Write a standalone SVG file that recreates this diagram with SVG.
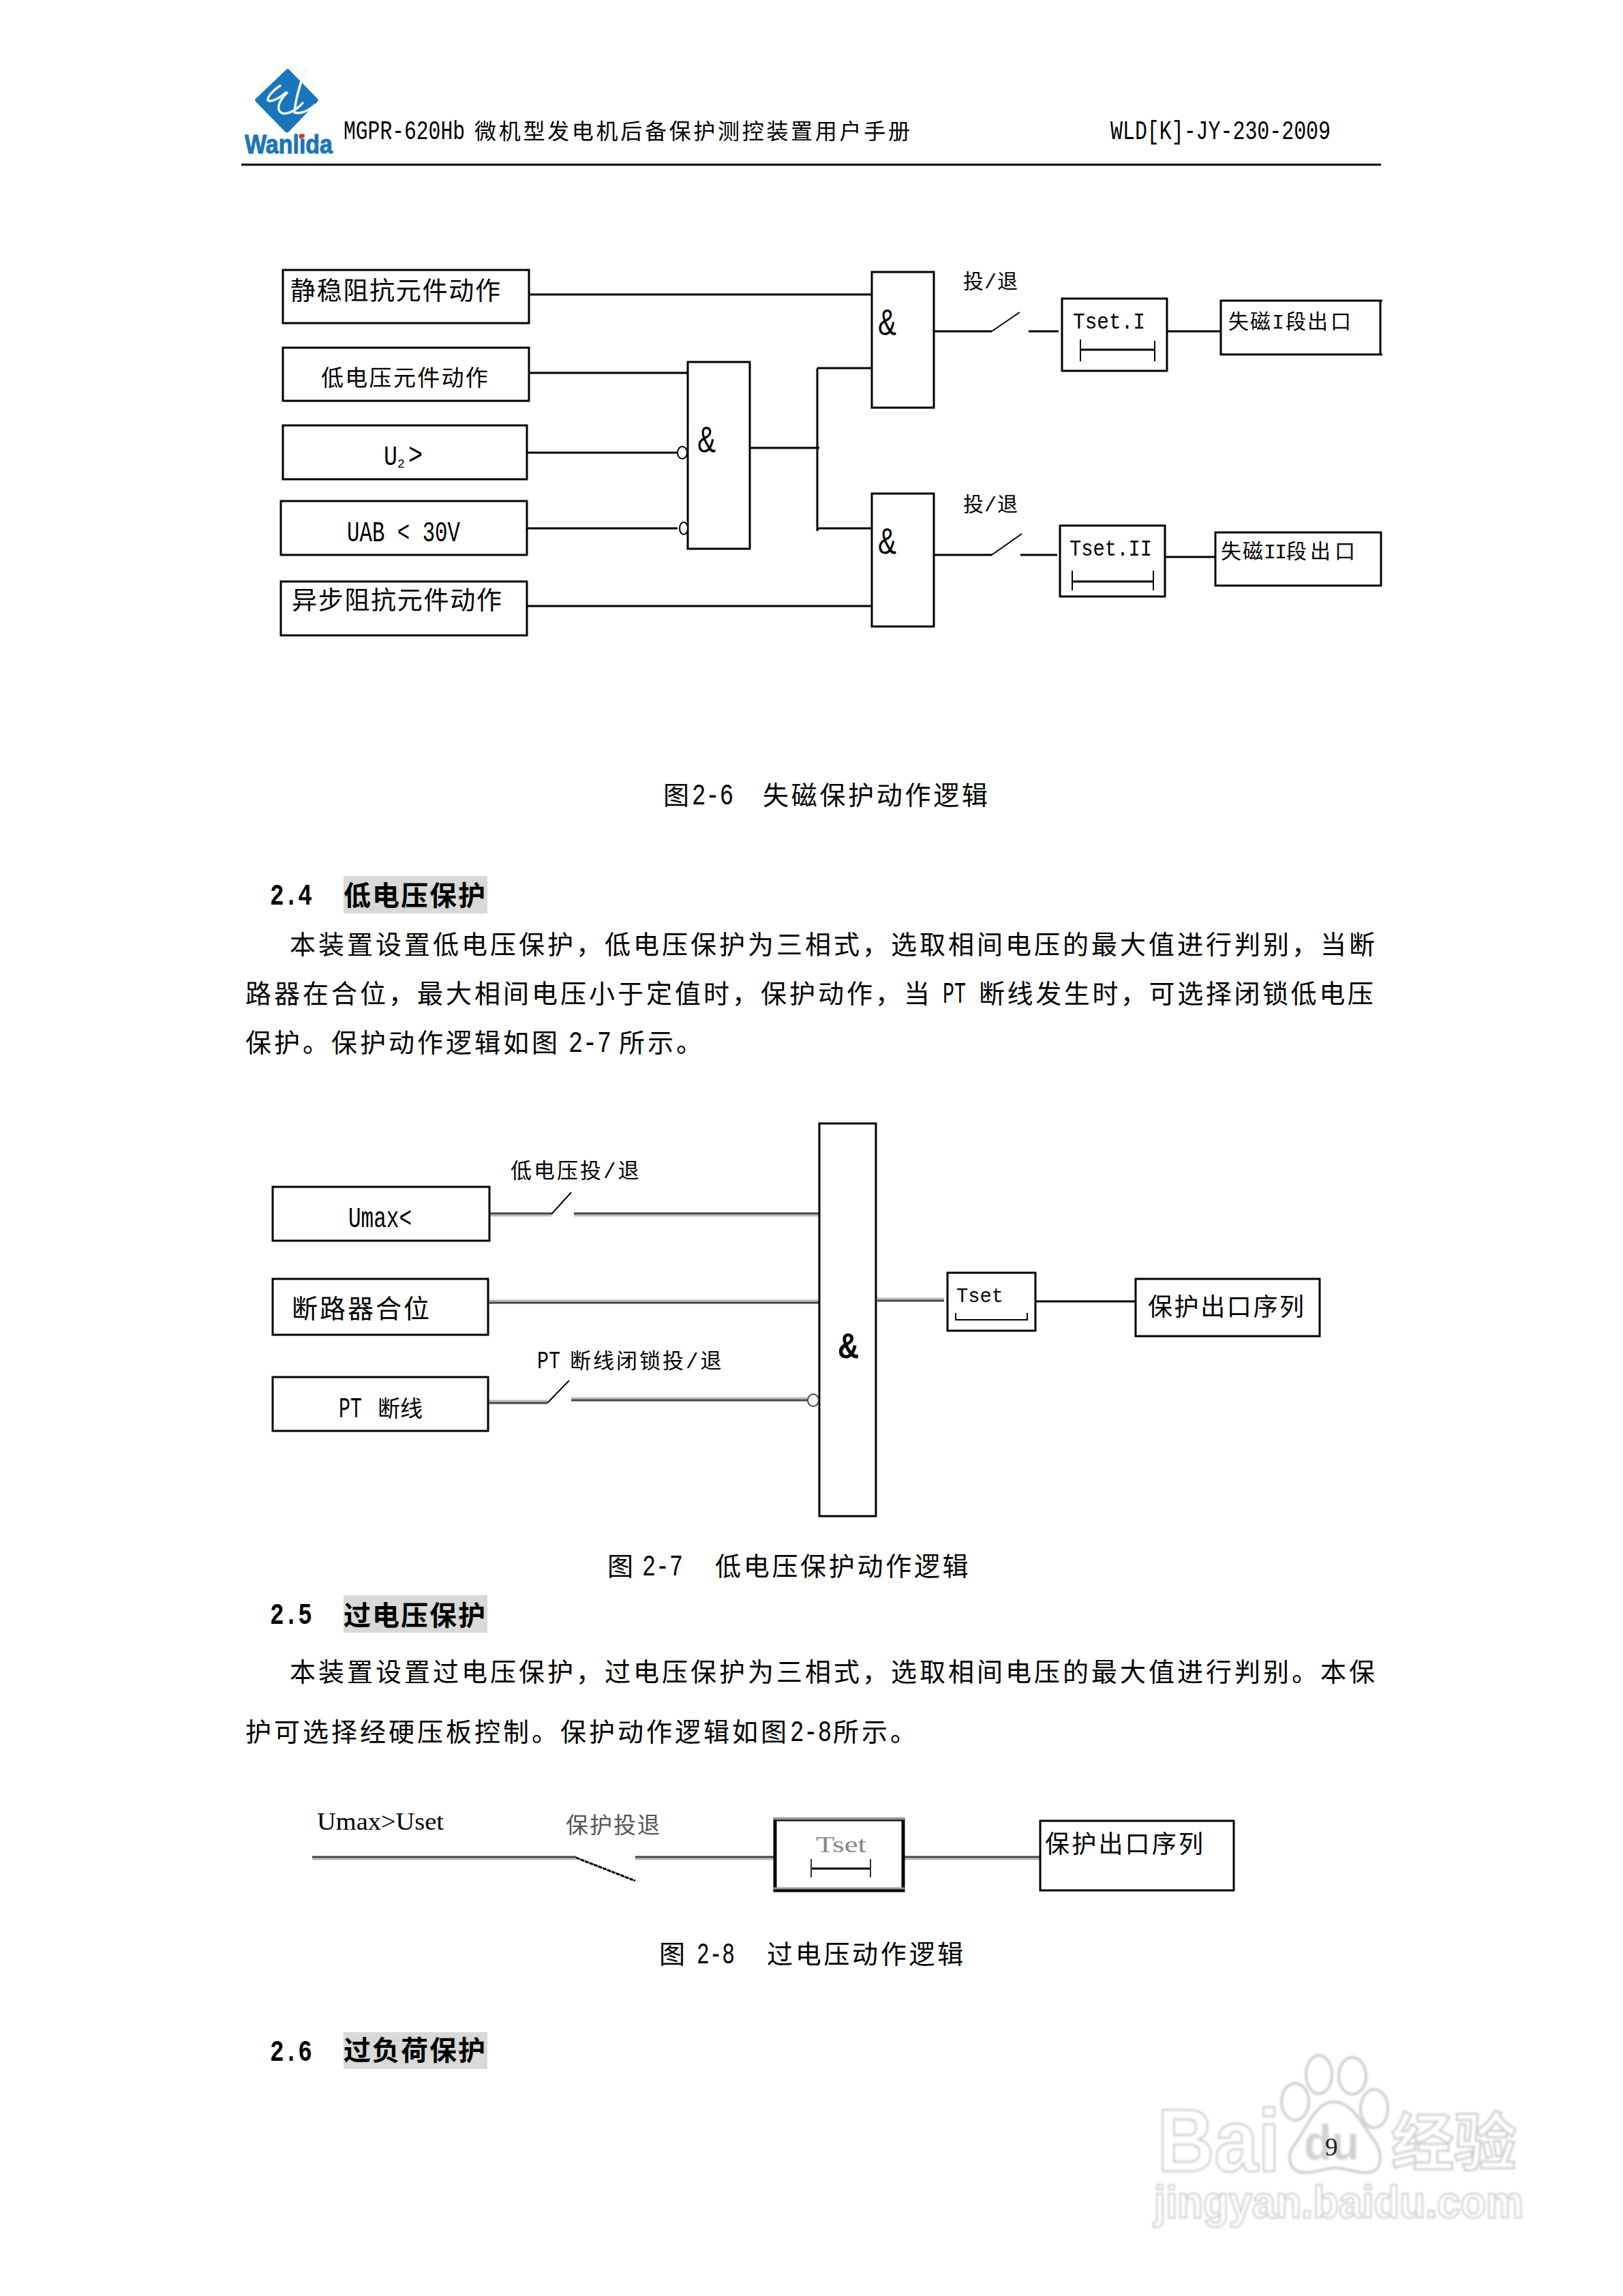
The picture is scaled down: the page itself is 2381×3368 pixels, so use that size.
<svg xmlns="http://www.w3.org/2000/svg" width="2381" height="3368" viewBox="0 0 2381 3368">
<defs>
<style>
text{font-family:"Liberation Mono","Noto Sans CJK SC",monospace;fill:#000}
.box{fill:#fff;stroke:#000;stroke-width:3}
.ln{fill:none;stroke:#000;stroke-width:3}
.thin{fill:none;stroke:#000;stroke-width:2}
.dk{fill:none;stroke:#444;stroke-width:3}
.lt{fill:none;stroke:#bbb;stroke-width:3}
.body{font-size:38px;letter-spacing:4px}
.cap{font-size:38px;letter-spacing:3.7px}
.dig{font-size:44px}
.num{font-size:44px;font-weight:700}
.hd{font-size:40px;font-weight:700;letter-spacing:2px}
.hl{fill:#d9d9d9}
.hdr{font-size:32px;letter-spacing:3.7px}
.lat{font-size:38px}
.lb{font-size:37px;letter-spacing:1.7px}
.sm{font-size:31px;letter-spacing:3px}
.tag{font-size:30px}
.amp{font-family:"Liberation Sans",sans-serif;font-size:54px}
.wm{font-family:"Liberation Sans","Noto Sans CJK SC",sans-serif;font-weight:700;fill:#fff;stroke:#cfcfcf;stroke-width:3}
.wmp{fill:#fff;stroke:#cfcfcf;stroke-width:4}
</style>
<filter id="blur" x="-5%" y="-5%" width="110%" height="110%"><feGaussianBlur stdDeviation="1.4"/></filter>
</defs>
<rect width="2381" height="3368" fill="#fff"/>

<g id="watermark" filter="url(#blur)">
<text class="wm" x="1698" y="3185" font-size="130" textLength="180" lengthAdjust="spacingAndGlyphs">Bai</text>
<ellipse class="wmp" cx="1935" cy="3043" rx="19" ry="28"/>
<ellipse class="wmp" cx="1984" cy="3045" rx="20" ry="27"/>
<ellipse class="wmp" cx="1900" cy="3083" rx="20" ry="27"/>
<ellipse class="wmp" cx="2016" cy="3093" rx="20" ry="28"/>
<path class="wmp" d="M1956 3083C1930 3083 1915 3125 1900 3145C1885 3165 1892 3187 1915 3187C1935 3187 1945 3180 1958 3180C1975 3180 1985 3187 2005 3187C2028 3187 2030 3160 2016 3140C2000 3120 1985 3083 1956 3083Z"/>
<text x="1913" y="3168" font-size="72" textLength="81" lengthAdjust="spacingAndGlyphs" style="font-family:'Liberation Sans',sans-serif;font-weight:700;fill:#d2d2d2">du</text>
<text class="wm" x="2041" y="3176" font-size="92">经验</text>
<text class="wm" x="1693" y="3253" font-size="66" textLength="542" lengthAdjust="spacingAndGlyphs" style="stroke-width:2.5">jingyan.baidu.com</text>
</g>

<g id="header">
<path d="M420 102Q422 100 424 102L466 145Q468 147 466 149L424 193Q421 196 418 193L375 149Q373 147 375 145Z" fill="#1a75bb"/>
<path d="M412 125C400 133 392 142 393 147C397 150 410 145 420 135M422 135C412 145 406 155 410 163C417 172 435 162 445 150M449 100C442 118 434 140 432 165C445 168 455 160 463 153" fill="none" stroke="#f2f7fb" stroke-width="3.5"/>
<text x="359" y="225" style="font-family:'Liberation Sans',sans-serif;font-size:38px;font-weight:700;fill:#1a75bb;stroke:#1a75bb;stroke-width:1" textLength="129" lengthAdjust="spacingAndGlyphs">Wanlida</text>
<circle cx="442" cy="200" r="3.5" fill="#d33"/>
<text class="lat" x="504" y="204" textLength="178" lengthAdjust="spacingAndGlyphs">MGPR-620Hb</text>
<text class="hdr" x="696" y="204">微机型发电机后备保护测控装置用户手册</text>
<text class="lat" x="1629" y="204" textLength="323" lengthAdjust="spacingAndGlyphs">WLD[K]-JY-230-2009</text>
<rect x="354" y="240" width="1672" height="3" fill="#000"/>
</g>

<g id="connectors">
<path class="ln" d="M776 432H1279M776 547H1009M773 664H994M773 775H994M773 889H1283M1100 657H1202M1199 540V779M1199 540H1279M1199 775H1279"/>
<path class="ln" d="M1370 486H1455M1509 486H1553M1712 486H1791M1370 814H1455M1497 814H1551M1709 817H1783"/>
<path class="thin" d="M1455 486L1496 458M1455 814L1499 783"/>
<path class="lt" d="M718 1783H809M842 1783H1204M716 1908H1202M713 2055H803M838 2051H1186M1287 1905H1385"/>
<path class="dk" d="M718 1780H809M842 1780H1204M716 1911H1202M713 2058H803M838 2054H1186M1287 1908H1385"/>
<path class="ln" d="M1519 1909H1666"/>
<path class="thin" d="M809 1781L838 1749M803 2058L835 2025"/>
<path class="lt" d="M458 2727H845M932 2727H1137M1325 2727H1529"/>
<path class="dk" d="M458 2724H845M932 2724H1137M1325 2724H1529"/>
<path class="ln" d="M845 2725L932 2759" stroke-dasharray="6 1"/>
</g>

<g id="fig26-in1"><rect class="box" x="415" y="396" width="361" height="78"/><text class="lb" x="426" y="440">静稳阻抗元件动作</text></g>
<g id="fig26-in2"><rect class="box" x="415" y="510" width="361" height="78"/><text x="471" y="566" style="font-size:33px;letter-spacing:2.3px">低电压元件动作</text></g>
<g id="fig26-in3"><rect class="box" x="415" y="624" width="358" height="79"/><text x="563" y="682" style="font-size:40px" textLength="20" lengthAdjust="spacingAndGlyphs">U</text><text x="583" y="686" font-size="18">2</text><text x="599" y="681" style="font-size:44px" textLength="21" lengthAdjust="spacingAndGlyphs">&gt;</text></g>
<g id="fig26-in4"><rect class="box" x="412" y="735" width="361" height="79"/><text x="509" y="794" style="font-size:42px" textLength="166" lengthAdjust="spacingAndGlyphs" xml:space="preserve">UAB &lt; 30V</text></g>
<g id="fig26-in5"><rect class="box" x="412" y="853" width="361" height="79"/><text class="lb" x="428" y="894">异步阻抗元件动作</text></g>
<g id="fig26-and-mid"><rect class="box" x="1009" y="531" width="91" height="274"/>
<ellipse cx="1001" cy="664" rx="7" ry="9" fill="#fff" stroke="#000" stroke-width="2"/><ellipse cx="1003" cy="775" rx="6" ry="9" fill="#fff" stroke="#000" stroke-width="2"/>
<text class="amp" x="1023" y="663" textLength="27" lengthAdjust="spacingAndGlyphs">&amp;</text></g>
<g id="fig26-and-top"><rect class="box" x="1279" y="399" width="91" height="199"/><text class="amp" x="1288" y="491" textLength="27" lengthAdjust="spacingAndGlyphs">&amp;</text></g>
<g id="fig26-and-bot"><rect class="box" x="1279" y="724" width="91" height="195"/><text class="amp" x="1288" y="812" textLength="27" lengthAdjust="spacingAndGlyphs">&amp;</text></g>
<g id="fig26-sw1"><text class="tag" y="423"><tspan x="1413">投</tspan><tspan x="1444">/</tspan><tspan x="1463">退</tspan></text></g>
<g id="fig26-sw2"><text class="tag" y="750"><tspan x="1413">投</tspan><tspan x="1444">/</tspan><tspan x="1463">退</tspan></text></g>
<g id="fig26-t1"><rect class="box" x="1558" y="438" width="154" height="106"/><text x="1574" y="482" style="font-size:34px" textLength="106" lengthAdjust="spacingAndGlyphs">Tset.I</text>
<path class="ln" d="M1585 513H1694"/><path class="thin" d="M1585 498V530M1694 500V530"/></g>
<g id="fig26-t2"><rect class="box" x="1555" y="771" width="154" height="104"/><text x="1569" y="815" style="font-size:34px" textLength="121" lengthAdjust="spacingAndGlyphs">Tset.II</text>
<path class="ln" d="M1573 853H1692"/><path class="thin" d="M1573 837V866M1692 837V866"/></g>
<g id="fig26-o1"><path class="box" d="M2028 441H1791V520H2028"/><path class="ln" d="M2025 441V520"/><text class="tag" y="482"><tspan x="1802">失</tspan><tspan x="1834">磁</tspan><tspan x="1866">I</tspan><tspan x="1886">段</tspan><tspan x="1918">出</tspan><tspan x="1952">口</tspan></text></g>
<g id="fig26-o2"><rect class="box" x="1783" y="781" width="243" height="78"/><text class="tag" y="819"><tspan x="1791">失</tspan><tspan x="1823">磁</tspan><tspan x="1854">I</tspan><tspan x="1870">I</tspan><tspan x="1887">段</tspan><tspan x="1922">出</tspan><tspan x="1958">口</tspan></text></g>

<g id="text-a">
<text class="cap" x="973" y="1180">图</text><text class="dig" x="1015" y="1180" textLength="61" lengthAdjust="spacingAndGlyphs">2-6</text><text class="cap" x="1119" y="1180">失磁保护动作逻辑</text>
<text class="num" x="396" y="1327" textLength="62" lengthAdjust="spacingAndGlyphs">2.4</text>
<rect class="hl" x="504" y="1285" width="211" height="55"/>
<text class="hd" x="504" y="1328">低电压保护</text>
<text class="body" x="425" y="1399">本装置设置低电压保护，低电压保护为三相式，选取相间电压的最大值进行判别，当断</text>
<text class="body" x="360" y="1471">路器在合位，最大相间电压小于定值时，保护动作，当</text><text class="dig" x="1383" y="1471" textLength="34" lengthAdjust="spacingAndGlyphs">PT</text><text class="body" x="1436" y="1471" style="letter-spacing:3.6px">断线发生时，可选择闭锁低电压</text>
<text class="body" x="360" y="1543">保护。保护动作逻辑如图</text><text class="dig" x="834" y="1543" textLength="63" lengthAdjust="spacingAndGlyphs">2-7</text><text class="body" x="908" y="1543">所示。</text>
</g>

<g id="fig27-in1"><rect class="box" x="400" y="1741" width="318" height="79"/><text x="511" y="1800" style="font-size:42px" textLength="93" lengthAdjust="spacingAndGlyphs">Umax&lt;</text></g>
<g id="fig27-in2"><rect class="box" x="400" y="1876" width="316" height="82"/><text x="428" y="1933" style="font-size:38px;letter-spacing:3px">断路器合位</text></g>
<g id="fig27-in3"><rect class="box" x="400" y="2020" width="316" height="79"/><text x="497" y="2079" style="font-size:42px" textLength="34" lengthAdjust="spacingAndGlyphs">PT</text><text x="554" y="2078" style="font-size:33px">断线</text></g>
<g id="fig27-sw1"><text class="sm" x="749" y="1728">低电压投/退</text></g>
<g id="fig27-sw2"><text x="788" y="2007" style="font-size:36px" textLength="34" lengthAdjust="spacingAndGlyphs">PT</text><text class="sm" x="836" y="2007">断线闭锁投/退</text></g>
<g id="fig27-and"><rect class="box" x="1202" y="1648" width="83" height="576"/>
<ellipse cx="1193" cy="2054" rx="8" ry="9" fill="#fff" stroke="#444" stroke-width="2"/>
<text class="amp" x="1229" y="1992" style="font-size:52px;font-weight:700" textLength="31" lengthAdjust="spacingAndGlyphs">&amp;</text></g>
<g id="fig27-t"><rect class="box" x="1390" y="1867" width="129" height="85"/><text x="1403" y="1910" style="font-size:30px" textLength="69" lengthAdjust="spacingAndGlyphs">Tset</text><path class="thin" d="M1402 1926V1936H1507V1926"/></g>
<g id="fig27-o"><rect class="box" x="1666" y="1876" width="270" height="84"/><text x="1684" y="1930" style="font-size:36px;letter-spacing:2.6px">保护出口序列</text></g>

<g id="text-b">
<text class="cap" x="891" y="2311">图</text><text class="dig" x="942" y="2311" textLength="60" lengthAdjust="spacingAndGlyphs">2-7</text><text class="cap" x="1049" y="2311">低电压保护动作逻辑</text>
<text class="num" x="396" y="2382" textLength="62" lengthAdjust="spacingAndGlyphs">2.5</text>
<rect class="hl" x="504" y="2340" width="211" height="55"/>
<text class="hd" x="504" y="2384">过电压保护</text>
<text class="body" x="425" y="2466">本装置设置过电压保护，过电压保护为三相式，选取相间电压的最大值进行判别。本保</text>
<text class="body" x="360" y="2554">护可选择经硬压板控制。保护动作逻辑如图</text><text class="dig" x="1159" y="2554" textLength="61" lengthAdjust="spacingAndGlyphs">2-8</text><text class="body" x="1222" y="2554">所示。</text>
</g>

<g id="fig28-in"><text x="465" y="2684" style="font-size:36px;font-family:'Liberation Serif','Liberation Mono',serif" textLength="186" lengthAdjust="spacingAndGlyphs">Umax&gt;Uset</text></g>
<g id="fig28-sw"><text x="830" y="2689" style="font-size:33px;letter-spacing:2px;fill:#555">保护投退</text></g>
<g id="fig28-t"><rect x="1137" y="2669" width="188" height="104" fill="#fff" stroke="#000" stroke-width="5"/><path d="M1135 2668H1327M1135 2770H1327" stroke="#999" stroke-width="3"/>
<text x="1197" y="2717" style="font-size:33px;fill:#888;font-family:'Liberation Serif',serif" textLength="74" lengthAdjust="spacingAndGlyphs">Tset</text>
<path class="ln" d="M1190 2741H1277"/><path class="thin" d="M1190 2727V2754M1277 2727V2754" style="stroke:#333"/></g>
<g id="fig28-o"><rect class="box" x="1526" y="2671" width="284" height="102"/><text x="1533" y="2718" style="font-size:36px;letter-spacing:3.2px">保护出口序列</text></g>

<g id="text-c">
<text class="cap" x="967" y="2880">图</text><text class="dig" x="1022" y="2880" textLength="56" lengthAdjust="spacingAndGlyphs">2-8</text><text class="cap" x="1125" y="2880">过电压动作逻辑</text>
<text class="num" x="396" y="3023" textLength="62" lengthAdjust="spacingAndGlyphs">2.6</text>
<rect class="hl" x="504" y="2981" width="211" height="54"/>
<text class="hd" x="504" y="3022">过负荷保护</text>
<text x="1944" y="3162" style="font-family:'Liberation Serif',serif;font-size:37px;fill:#222">9</text>
</g>
</svg>
